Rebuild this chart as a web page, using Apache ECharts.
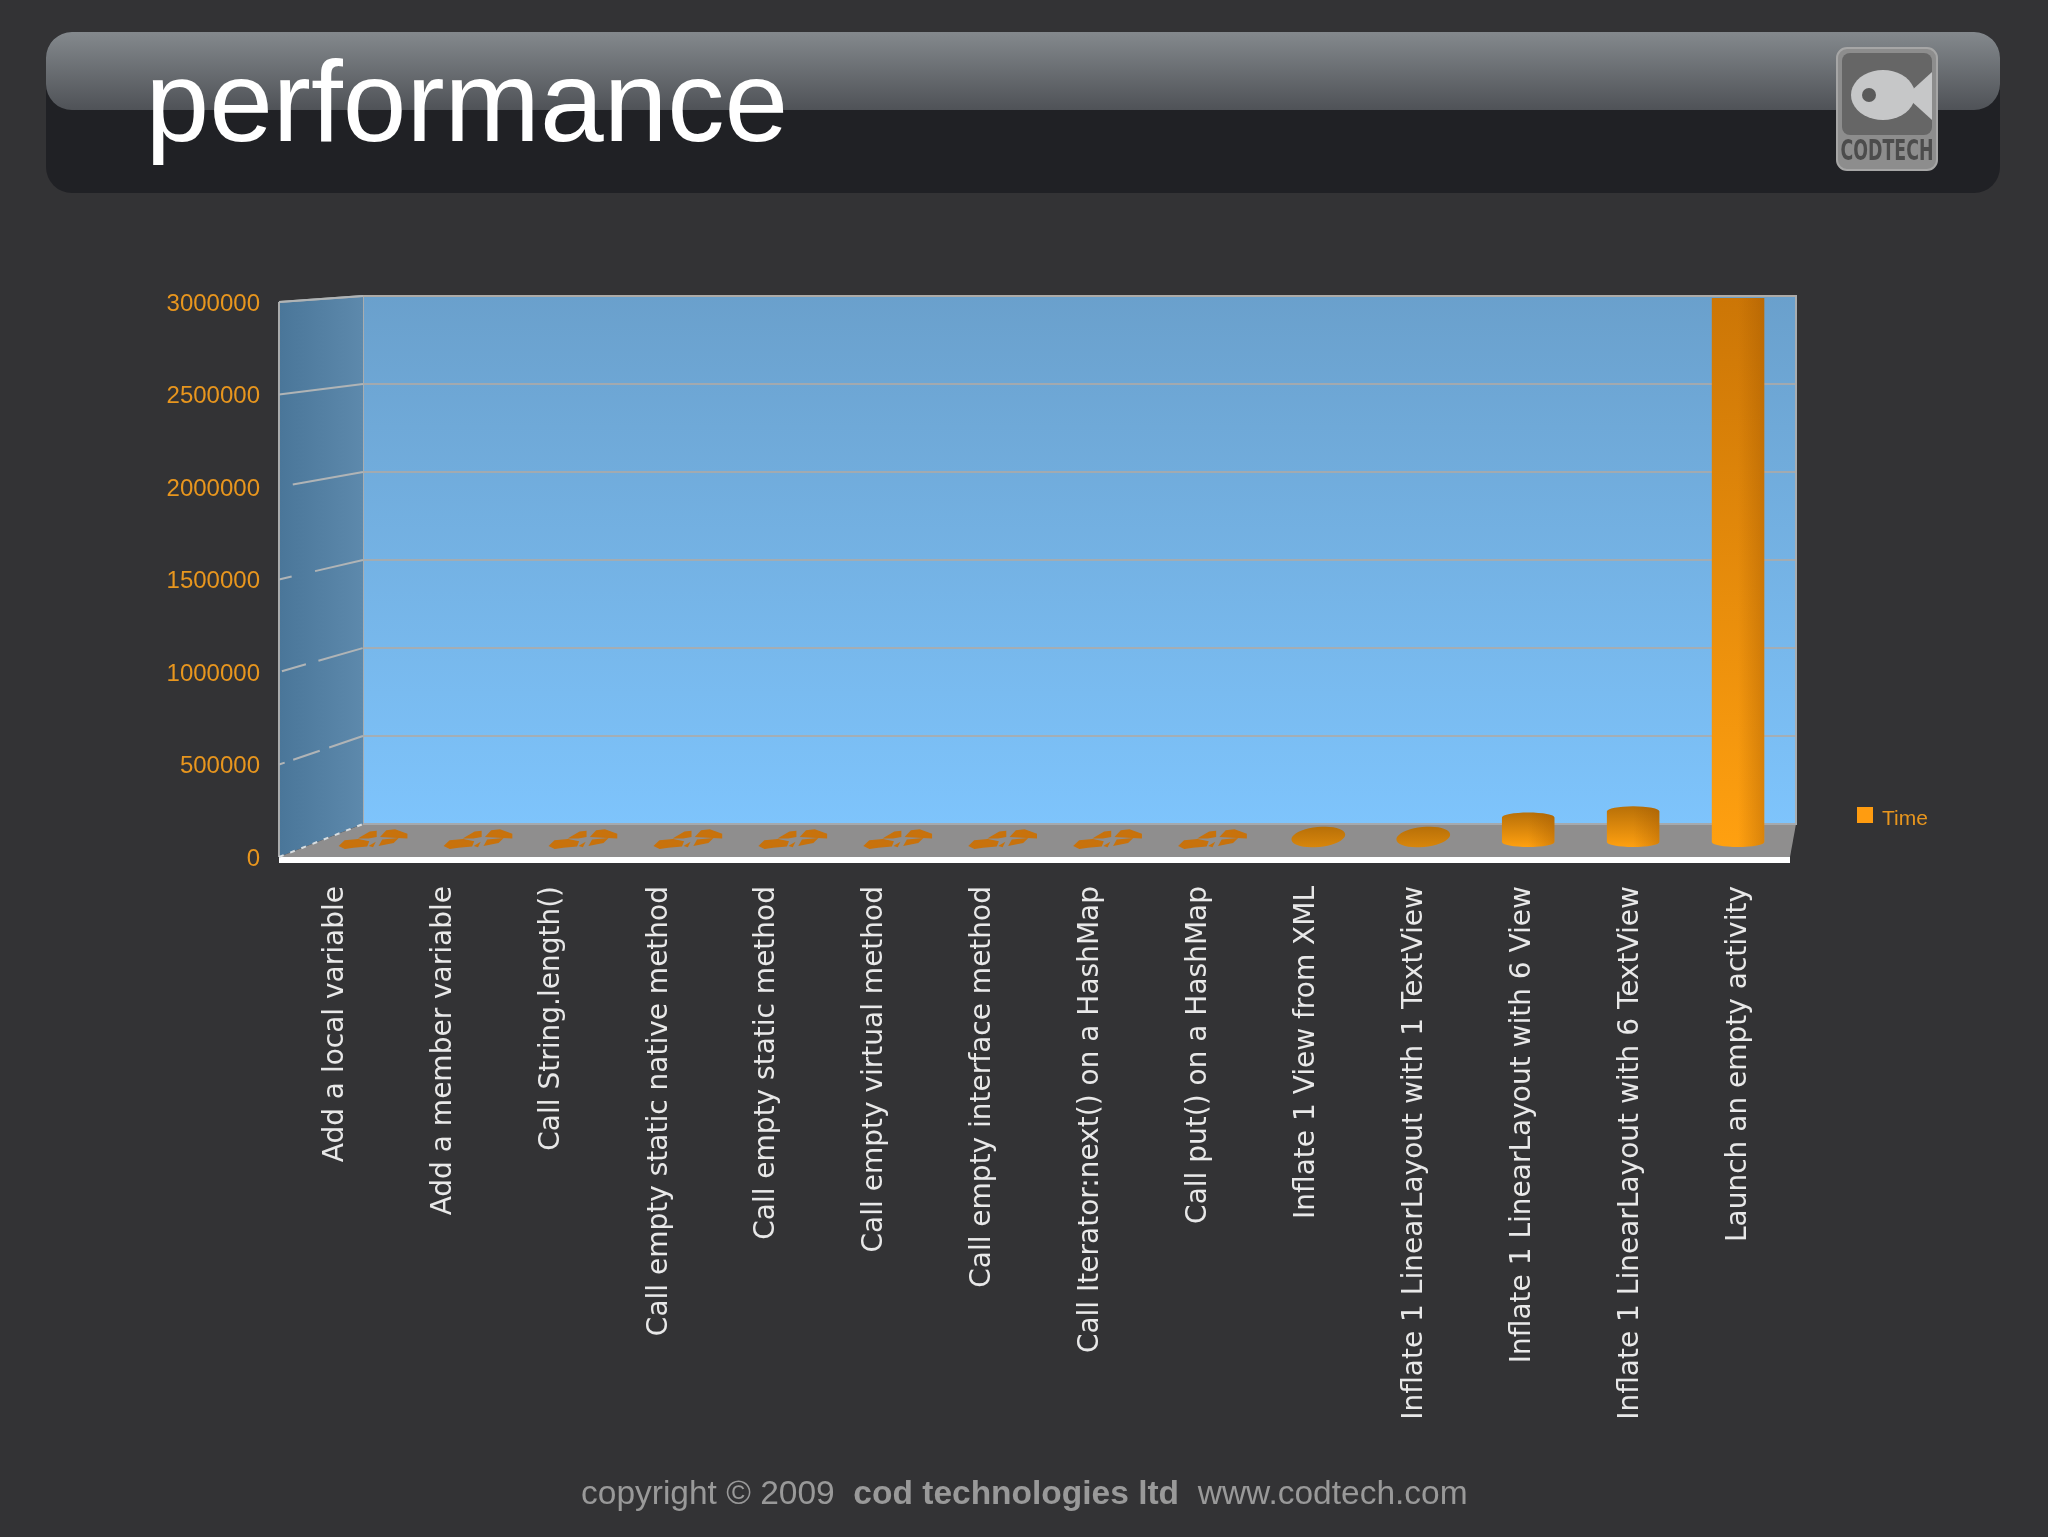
<!DOCTYPE html>
<html>
<head>
<meta charset="utf-8">
<title>performance</title>
<script src="https://cdn.jsdelivr.net/npm/echarts@6/dist/echarts.min.js"></script>
<style>
    html, body { margin: 0; padding: 0; background: #333335; }
    #chart { width: 2048px; height: 1537px; }
</style>
</head>
<body>
<div id="chart"></div>
<script>
const categories = [
    'Add a local variable',
    'Add a member variable',
    'Call String.length()',
    'Call empty static native method',
    'Call empty static method',
    'Call empty virtual method',
    'Call empty interface method',
    'Call Iterator:next() on a HashMap',
    'Call put() on a HashMap',
    'Inflate 1 View from XML',
    'Inflate 1 LinearLayout with 1 TextView',
    'Inflate 1 LinearLayout with 6 View',
    'Inflate 1 LinearLayout with 6 TextView',
    'Launch an empty activity',
]
const timeValues = [1, 4, 5, 5, 12, 12.5, 15, 25, 150, 22000, 25000, 135000, 169000, 3000000]
const yTicks = [0, 500000, 1000000, 1500000, 2000000, 2500000, 3000000]

// dash pattern of the side wall rules, one per tick from 0 upwards
const sideDash = [
    [5, 7],
    [6, 9, 28, 10, 34, 0],
    [0, 3, 25, 13, 46, 0],
    [13, 24, 50, 0],
    [0, 14, 80, 0],
    null,
    null,
]
// torn pieces the 3D renderer leaves for bars with almost no height
const chipShapes = [
    [[-34, 7.7], [-29, 3], [-15.7, 1.7], [-5.7, 3.7], [-7.3, 7.7], [-20.7, 9], [-29, 10.3]],
    [[-13.3, -0.3], [-4, -5.7], [2, -6.3], [2, -1.7], [-5.7, -0.3]],
    [[7.7, -1.7], [12.7, -7], [21, -8], [32.7, -3.7], [32.7, -0.3], [19.3, -1]],
    [[6, 7], [8.7, 2.3], [22.7, 1], [19.3, 4.3]],
    [[-3.3, 7.7], [0, 5.7], [-1.3, 8.3]],
]

const frontRect = { left: 279, top: 302, width: 1511, height: 555 }
const wallRect = { left: 363, top: 296, width: 1433, height: 528 }
const barRect = { left: 321.5, top: 298, width: 1469, height: 544 }
const sansFont = '"Liberation Sans", Arial, sans-serif'
const orange = '#e8961e'

function vGradient(from, to) {
    return { type: 'linear', x: 0, y: 0, x2: 0, y2: 1, colorStops: [{ offset: 0, color: from }, { offset: 1, color: to }] }
}

function hGradient(from, to) {
    return { type: 'linear', x: 0, y: 0, x2: 1, y2: 0, colorStops: [{ offset: 0, color: from }, { offset: 1, color: to }] }
}

function ellipsePoints(cx, cy, rx, ry, tilt) {
    const pts = []
    for (let i = 0; i < 40; i++) {
        const a = (i / 40) * Math.PI * 2
        const x = Math.cos(a) * rx, y = Math.sin(a) * ry
        pts.push([cx + x * Math.cos(tilt) - y * Math.sin(tilt), cy + x * Math.sin(tilt) + y * Math.cos(tilt)])
    }
    return pts
}

function cylinderOutline(cx, topY, bottomY, halfW, topRy, bottomRy) {
    const pts = []
    for (let i = 0; i <= 16; i++) {
        const a = Math.PI + (i / 16) * Math.PI
        pts.push([cx + Math.cos(a) * halfW, topY + Math.sin(a) * topRy])
    }
    for (let i = 0; i <= 16; i++) {
        const a = (i / 16) * Math.PI
        pts.push([cx + Math.cos(a) * halfW, bottomY + Math.sin(a) * bottomRy])
    }
    return pts
}

function renderCylinder(params, api) {
    const zero = api.coord([api.value(0), 0])
    const top = api.coord([api.value(0), api.value(1)])
    const halfW = api.size([1, 0])[0] * 0.25
    const height = zero[1] - top[1]
    const children = []

    if (height < 1) {
        chipShapes.forEach((shape) => {
            children.push({
                type: 'polygon',
                shape: { points: shape.map((p) => [zero[0] + p[0], zero[1] - 4 + p[1]]) },
                style: { fill: '#c8720c', stroke: '#c8720c', lineWidth: 1.5 },
            })
        })
    } else if (height < 10) {
        children.push({
            type: 'polygon',
            shape: { points: ellipsePoints(zero[0], zero[1] - 5, 27, 10, -0.1) },
            style: { fill: vGradient('#b87008', '#d8860c') },
        })
    } else {
        const clipped = top[1] <= params.coordSys.y
        const pts = cylinderOutline(zero[0], top[1], zero[1], halfW, clipped ? 0 : 5, 5)
        children.push({
            type: 'polygon',
            shape: { points: pts },
            style: { fill: vGradient(clipped ? '#cc7606' : '#b87008', '#ffa010') },
        })
        children.push({
            type: 'polygon',
            shape: { points: pts },
            style: {
                fill: {
                    type: 'linear', x: 0, y: 0, x2: 1, y2: 0,
                    colorStops: [
                        { offset: 0, color: 'rgba(150,80,0,0)' },
                        { offset: 0.5, color: 'rgba(150,80,0,0)' },
                        { offset: 1, color: 'rgba(150,80,0,0.35)' },
                    ],
                },
            },
        })
    }
    return { type: 'group', children: children }
}

function staticGraphics() {
    const f = frontRect, w = wallRect
    const frontRight = f.left + f.width, wallRight = w.left + w.width
    const frontBottom = f.top + f.height, wallBottom = w.top + w.height
    return [
        // header bar
        { type: 'rect', z: 0, shape: { x: 46, y: 32, width: 1954, height: 161, r: 26 }, style: { fill: '#202125' } },
        { type: 'rect', z: 0, shape: { x: 46, y: 32, width: 1954, height: 78, r: 26 }, style: { fill: vGradient('#84898d', '#4f5257') } },
        // side wall
        {
            type: 'polygon', z: 1,
            shape: { points: [[f.left, f.top], [w.left, w.top], [w.left, wallBottom], [f.left, frontBottom]] },
            style: { fill: hGradient('#4a7699', '#5d89ac') },
        },
        { type: 'line', z: 2, shape: { x1: f.left, y1: f.top, x2: f.left, y2: frontBottom }, style: { stroke: '#a9abac', lineWidth: 2 } },
        { type: 'line', z: 2, shape: { x1: f.left, y1: f.top, x2: w.left, y2: w.top }, style: { stroke: '#a9abac', lineWidth: 2 } },
        // floor
        {
            type: 'polygon', z: 1,
            shape: { points: [[f.left, frontBottom], [w.left, wallBottom], [wallRight, wallBottom], [frontRight, frontBottom]] },
            style: { fill: '#8f8e8e' },
        },
        { type: 'line', z: 2, shape: { x1: w.left, y1: wallBottom, x2: wallRight, y2: wallBottom }, style: { stroke: '#a5a9ad', lineWidth: 2 } },
        { type: 'rect', z: 2, shape: { x: f.left, y: frontBottom, width: f.width, height: 6 }, style: { fill: '#ffffff' } },
        // logo
        { type: 'rect', z: 3, shape: { x: 1837, y: 48, width: 100, height: 122, r: 10 }, style: { fill: '#8d8d8d', stroke: '#a6a6a6', lineWidth: 2 } },
        { type: 'rect', z: 3, shape: { x: 1842, y: 53, width: 90, height: 82, r: 8 }, style: { fill: '#666666' } },
        { type: 'polygon', z: 4, shape: { points: ellipsePoints(1883, 95, 32, 25, 0) }, style: { fill: '#c6c7c8' } },
        { type: 'polygon', z: 4, shape: { points: [[1910, 92], [1932, 72], [1932, 120], [1910, 100]] }, style: { fill: '#c6c7c8' } },
        { type: 'circle', z: 4, shape: { cx: 1869, cy: 95, r: 7 }, style: { fill: '#5a5a5a' } },
        {
            type: 'text', z: 4, x: 1887, y: 153, scaleX: 0.62,
            style: { text: 'CODTECH', fill: '#4c4c4c', font: 'bold 28px "DejaVu Sans"', align: 'center', verticalAlign: 'middle' },
        },
        // footer
        {
            type: 'text', z: 4, x: 581, y: 1495,
            style: {
                text: '{a|copyright © 2009  }{b|cod technologies ltd}{a|  www.codtech.com}',
                verticalAlign: 'middle',
                rich: {
                    a: { fontFamily: sansFont, fontSize: 33.5, fill: '#999999', color: '#999999' },
                    b: { fontFamily: sansFont, fontSize: 33.5, fontWeight: 'bold', fill: '#999999', color: '#999999' },
                },
            },
        },
    ]
}

function sideWallRules(chart) {
    return yTicks.map((tick, i) => {
        const p1 = chart.convertToPixel({ yAxisIndex: 0 }, tick)
        const p2 = chart.convertToPixel({ yAxisIndex: 1 }, tick)
        return {
            type: 'line', z: 2,
            shape: { x1: frontRect.left, y1: p1, x2: wallRect.left, y2: p2 },
            style: {
                stroke: i === 0 ? '#d8dde0' : '#b0b4b6',
                lineWidth: 2,
                lineDash: sideDash[i] || 'solid',
            },
        }
    })
}

function paintPerformanceChart(dom) {
    let myChart = echarts.init(dom)
    let option = {
        backgroundColor: '#333335',
        animation: false,
        title: {
            text: 'performance',
            left: 140.5,
            top: 47,
            textStyle: { color: '#ffffff', fontFamily: sansFont, fontSize: 114.5, fontWeight: 'normal' },
        },
        legend: {
            data: ['Time'],
            left: 1852,
            top: 802,
            icon: 'rect',
            itemWidth: 16,
            itemHeight: 16,
            itemGap: 0,
            formatter: '{t|{name}}',
            textStyle: {
                rich: { t: { color: orange, fontFamily: sansFont, fontSize: 21, padding: [8, 0, 0, 4] } },
            },
        },
        grid: [
            { ...frontRect, show: false },
            { ...wallRect, show: true, backgroundColor: vGradient('#6aa0cc', '#7ec4fc'), borderColor: '#a8adb0', borderWidth: 2 },
            { ...barRect, show: false },
        ],
        xAxis: [
            {
                gridIndex: 0,
                type: 'category',
                data: categories,
                axisLine: { show: false },
                axisTick: { show: false },
                axisLabel: {
                    interval: 0,
                    rotate: 90,
                    margin: 29,
                    formatter: '{v|{value}}',
                    rich: { v: { color: '#e8e8e8', fontFamily: '"DejaVu Sans"', fontSize: 28, padding: [5, 0, 0, 0] } },
                },
            },
            { gridIndex: 1, type: 'category', data: categories, show: false },
            { gridIndex: 2, type: 'category', data: categories, show: false },
        ],
        yAxis: [
            {
                gridIndex: 0,
                type: 'value',
                min: 0,
                max: 3000000,
                interval: 500000,
                axisLine: { show: false },
                axisTick: { show: false },
                splitLine: { show: false },
                axisLabel: {
                    margin: 19,
                    formatter: (value) => '{v|' + value + '}',
                    rich: { v: { color: orange, fontFamily: sansFont, fontSize: 24, padding: [4, 0, 0, 0] } },
                },
            },
            {
                gridIndex: 1,
                type: 'value',
                min: 0,
                max: 3000000,
                interval: 500000,
                axisLine: { show: false },
                axisTick: { show: false },
                axisLabel: { show: false },
                splitLine: { show: true, lineStyle: { color: 'rgba(175,170,165,0.8)', width: 2 } },
            },
            { gridIndex: 2, type: 'value', min: 0, max: 3000000, show: false, splitLine: { show: false } },
        ],
        series: [
            {
                name: 'Time',
                type: 'custom',
                xAxisIndex: 2,
                yAxisIndex: 2,
                z: 5,
                clip: false,
                itemStyle: { color: '#ff9c10' },
                encode: { x: 0, y: 1 },
                renderItem: renderCylinder,
                data: categories.map((c, i) => [i, timeValues[i]]),
            },
        ],
        graphic: staticGraphics(),
    }
    myChart.setOption(option)
    myChart.setOption({ graphic: staticGraphics().concat(sideWallRules(myChart)) })
}

paintPerformanceChart(document.querySelector('#chart'))
</script>
</body>
</html>
